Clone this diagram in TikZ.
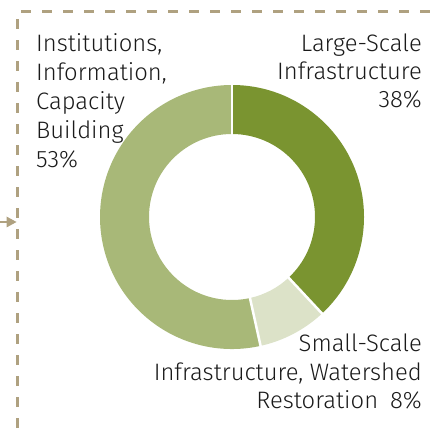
\documentclass[tikz,border=0pt]{standalone}
\usepackage{fontspec}
\setmainfont{Fira Sans Light}
\usetikzlibrary{arrows.meta,calc}
\definecolor{tan}{HTML}{AFA180}
\definecolor{large}{HTML}{7A9430}
\definecolor{inst}{HTML}{A8B878}
\definecolor{small}{HTML}{DCE2C8}
\definecolor{txt}{HTML}{1A1A1A}
\begin{document}
\begin{tikzpicture}[x=1pt,y=1pt,
  lbl/.style={inner sep=0pt,font=\fontsize{23.8}{29}\selectfont,text=txt},
  border/.style={draw=tan,line width=3pt,dash pattern=on 10pt off 11pt},
  gap/.style={draw=white,line width=2.5pt}]
\useasboundingbox (0,0) rectangle (441,428);
% border
\draw[border] (17,0) -- (17,416) -- (441,416);
% arrow
\coordinate (as) at (0,206);
\coordinate (ae) at (7,206);
\coordinate (tip) at (16.5,206);
\draw[draw=tan,line width=2.5pt] (as) -- (ae);
\fill[tan] (tip) -- ($(ae)+(-0.5,5.5)$) -- ($(ae)+(-0.5,-5.5)$) -- cycle;
% donut
\coordinate (c) at (232,211);
\def\R{132}\def\r{83}
\fill[large] ($(c)+(90:\R)$) arc[start angle=90,end angle=-47,radius=\R] -- ($(c)+(-47:\r)$) arc[start angle=-47,end angle=90,radius=\r] -- cycle;
\fill[small] ($(c)+(-47:\R)$) arc[start angle=-47,end angle=-77.5,radius=\R] -- ($(c)+(-77.5:\r)$) arc[start angle=-77.5,end angle=-47,radius=\r] -- cycle;
\fill[inst] ($(c)+(-77.5:\R)$) arc[start angle=-77.5,end angle=-270,radius=\R] -- ($(c)+(90:\r)$) arc[start angle=-270,end angle=-77.5,radius=\r] -- cycle;
\foreach \a in {90,-47,-77.5}{\draw[gap] ($(c)+(\a:\r-2)$) -- ($(c)+(\a:\R+2)$);}
% labels
\node[lbl,anchor=base west] (i1) at (36,376) {Institutions,};
\node[lbl,anchor=base west] (i2) at (36,347) {Information,};
\node[lbl,anchor=base west] (i3) at (36,318) {Capacity};
\node[lbl,anchor=base west] (i4) at (36,289) {Building};
\node[lbl,anchor=base west] (i5) at (36,260) {53\%};
\node[lbl,anchor=base east] (l1) at (422,376) {Large-Scale};
\node[lbl,anchor=base east] (l2) at (422,348) {Infrastructure};
\node[lbl,anchor=base east] (l3) at (422,320) {38\%};
\node[lbl,anchor=base east] (s1) at (422,77) {Small-Scale};
\node[lbl,anchor=base east] (s2) at (422,48) {Infrastructure, Watershed};
\node[lbl,anchor=base east] (s3) at (422,20) {Restoration\hspace{12pt}8\%};
\end{tikzpicture}
\end{document}
